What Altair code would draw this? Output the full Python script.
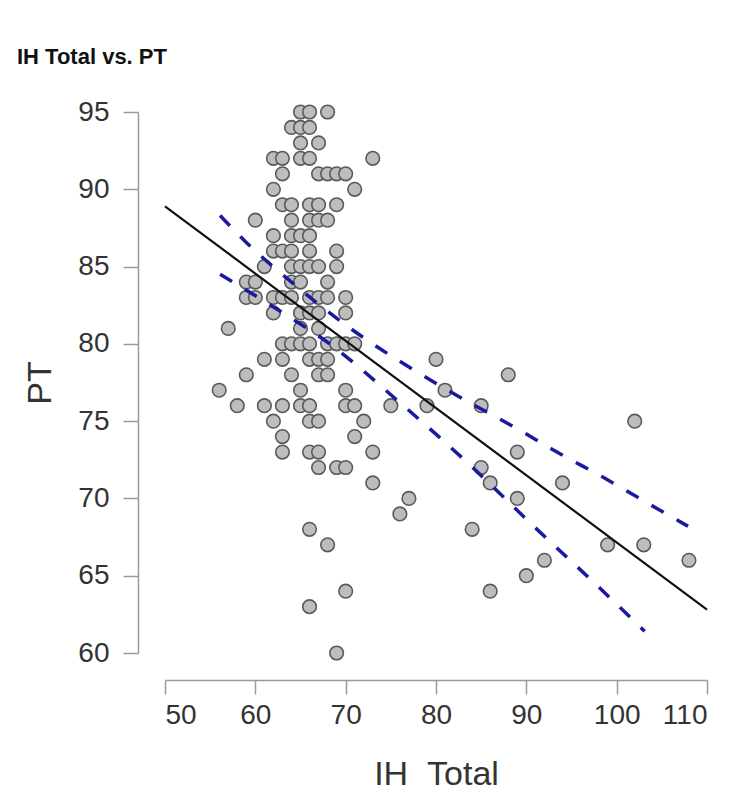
import altair as alt
import pandas as pd

# Scatter data (IH Total, PT)
ih_total = [
    65, 66, 68,
    64, 65, 66,
    65, 67,
    62, 63, 65, 66, 73,
    63, 67, 68, 69, 70,
    62, 71,
    63, 64, 66, 67, 69,
    60, 64, 66, 67, 68,
    62, 64, 65, 66,
    62, 63, 64, 66, 69,
    61, 64, 65, 66, 67, 69,
    59, 60, 64, 65, 68,
    59, 60, 62, 63, 64, 66, 67, 68, 70,
    62, 65, 66, 67, 70,
    57, 65, 67,
    63, 64, 65, 66, 68, 69, 70, 71,
    61, 63, 66, 67, 68, 80,
    59, 64, 67, 68, 88,
    56, 65, 70, 81,
    58, 61, 63, 65, 66, 70, 71, 75, 79, 85,
    62, 66, 67, 72, 102,
    63, 71,
    63, 66, 67, 73, 89,
    67, 69, 70, 85,
    73, 86, 94,
    77, 89,
    76,
    66, 84,
    68, 99, 103,
    92, 108,
    90,
    70, 86,
    66,
    69,
]
pt = [
    95, 95, 95,
    94, 94, 94,
    93, 93,
    92, 92, 92, 92, 92,
    91, 91, 91, 91, 91,
    90, 90,
    89, 89, 89, 89, 89,
    88, 88, 88, 88, 88,
    87, 87, 87, 87,
    86, 86, 86, 86, 86,
    85, 85, 85, 85, 85, 85,
    84, 84, 84, 84, 84,
    83, 83, 83, 83, 83, 83, 83, 83, 83,
    82, 82, 82, 82, 82,
    81, 81, 81,
    80, 80, 80, 80, 80, 80, 80, 80,
    79, 79, 79, 79, 79, 79,
    78, 78, 78, 78, 78,
    77, 77, 77, 77,
    76, 76, 76, 76, 76, 76, 76, 76, 76, 76,
    75, 75, 75, 75, 75,
    74, 74,
    73, 73, 73, 73, 73,
    72, 72, 72, 72,
    71, 71, 71,
    70, 70,
    69,
    68, 68,
    67, 67, 67,
    66, 66,
    65,
    64, 64,
    63,
    60,
]

# Fitted regression line
fit_x = [50, 110]
fit_y = [88.9, 62.8]

# Confidence band curves
upper_x = [56.1, 59.2, 64.2, 69.6, 72.1, 78.0, 81.0, 89.9, 92.8, 98.7, 104.6, 107.9]
upper_y = [88.3, 86.45, 83.9, 81.4, 80.35, 78.15, 77.1, 74.2, 73.2, 71.3, 69.3, 68.2]
lower_x = [56.1, 62.5, 68.0, 76.0, 83.5, 91.0, 98.5, 103.1]
lower_y = [84.5, 82.2, 80.1, 76.2, 72.3, 68.1, 64.0, 61.4]

x_ticks = [50, 60, 70, 80, 90, 100, 110]
y_ticks = [60, 65, 70, 75, 80, 85, 90, 95]

pts = pd.DataFrame({"ih": ih_total, "pt": pt})
fit = pd.DataFrame({"ih": fit_x, "pt": fit_y})
band = pd.concat([
    pd.DataFrame({"ih": upper_x, "pt": upper_y, "side": "upper"}),
    pd.DataFrame({"ih": lower_x, "pt": lower_y, "side": "lower"}),
])

FONT = "Liberation Sans"

xscale = alt.Scale(domain=[50, 110], nice=False, zero=False)
yscale = alt.Scale(domain=[60, 95], nice=False, zero=False)

xaxis = alt.Axis(
    values=x_ticks, title="IH\u00a0\u00a0Total", offset=27, tickSize=14, labelPadding=7,
    grid=False, domainColor="#9a9a9a", tickColor="#9a9a9a", domainWidth=1.5, tickWidth=1.5,
    labelFont=FONT, labelFontSize=28, labelColor="#333333",
    titleFont=FONT, titleFontSize=34, titleFontWeight="normal", titleColor="#333333",
    titlePadding=28,
)
yaxis = alt.Axis(
    values=y_ticks, title="PT", offset=27, tickSize=15, labelPadding=14,
    grid=False, domainColor="#9a9a9a", tickColor="#9a9a9a", domainWidth=1.5, tickWidth=1.5,
    labelFont=FONT, labelFontSize=28, labelColor="#333333",
    titleFont=FONT, titleFontSize=34, titleFontWeight="normal", titleColor="#333333",
    titlePadding=20,
)

points = alt.Chart(pts).mark_point(
    filled=True, shape="circle", size=185, fill="#bdbdbd", stroke="#5a5a5a",
    strokeWidth=1.6, opacity=1,
).encode(
    x=alt.X("ih:Q", scale=xscale, axis=xaxis),
    y=alt.Y("pt:Q", scale=yscale, axis=yaxis),
)

fit_line = alt.Chart(fit).mark_line(color="#111111", strokeWidth=2.2).encode(
    x=alt.X("ih:Q", scale=xscale),
    y=alt.Y("pt:Q", scale=yscale),
)

band_lines = alt.Chart(band).mark_line(
    color="#1a1aa0", strokeWidth=3.5, strokeDash=[14, 15], interpolate="monotone",
).encode(
    x=alt.X("ih:Q", scale=xscale),
    y=alt.Y("pt:Q", scale=yscale),
    detail="side:N",
)

chart = alt.layer(points, fit_line, band_lines).properties(
    width=542,
    height=541,
    background="white",
    autosize=alt.AutoSizeParams(type="none"),
    padding={"left": 165, "top": 112, "right": 43, "bottom": 154},
    title=alt.TitleParams(
        "IH Total vs. PT", anchor="start", frame="group", dx=-148, offset=29,
        font=FONT, fontSize=22, fontWeight="bold", color="#111111",
    ),
).configure_view(stroke=None, strokeWidth=0)

chart.save("out.html", embed_options={"renderer": "svg", "actions": False})
